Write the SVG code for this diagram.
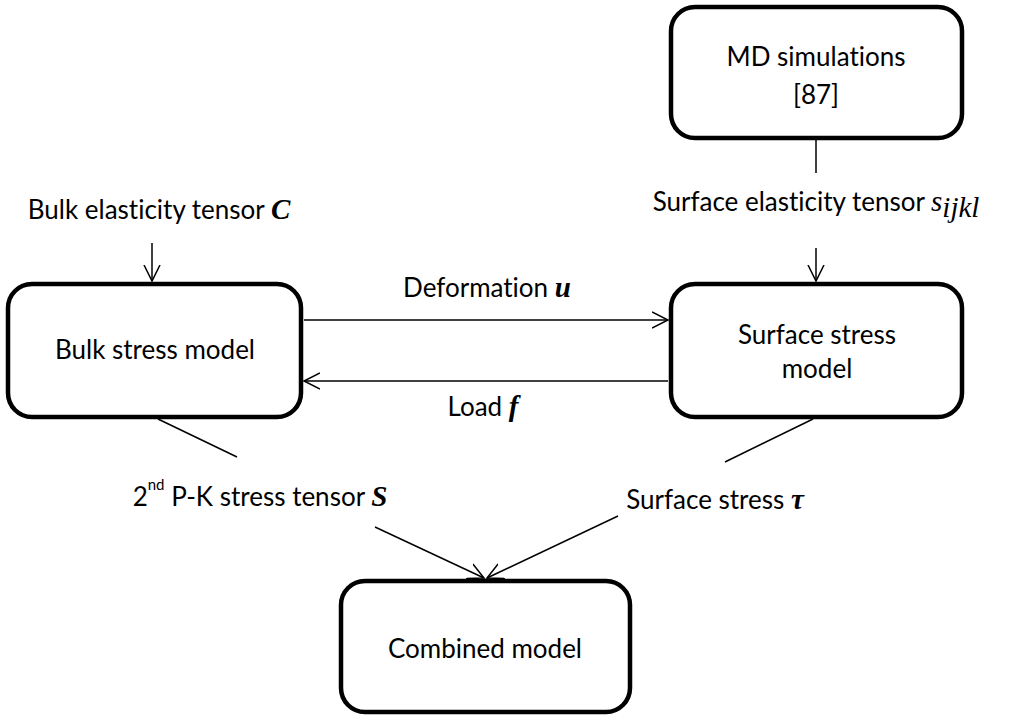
<svg xmlns="http://www.w3.org/2000/svg" width="1010" height="718" viewBox="0 0 1010 718">
<style>
.box{fill:#fff;stroke:#000;stroke-width:4.5}
.t{font-family:Lato,"Liberation Sans",sans-serif;font-size:26px;fill:#000;text-anchor:middle;font-variant-ligatures:none}
.m{font-family:"Liberation Serif",serif;font-weight:bold;font-style:italic;font-size:29px}
.mi{font-family:"Liberation Serif",serif;font-style:italic;font-size:29px}
.c{stroke:#000;stroke-width:1.5;fill:none}
</style>
<defs>
<marker id="ah" markerWidth="20" markerHeight="20" refX="16" refY="8" orient="auto" markerUnits="userSpaceOnUse" viewBox="0 0 20 16">
<polyline points="0,0 16,8 0,16" fill="none" stroke="#000" stroke-width="1.5"/>
</marker>
</defs>
<rect width="1010" height="718" fill="#fff"/>
<g id="connectors">
<line class="c" x1="816" y1="140" x2="816" y2="173"/>
<line class="c" x1="816" y1="248" x2="816" y2="281" marker-end="url(#ah)"/>
<line class="c" x1="152" y1="243" x2="152" y2="281" marker-end="url(#ah)"/>
<line class="c" x1="304" y1="320" x2="668" y2="320" marker-end="url(#ah)"/>
<line class="c" x1="668" y1="381" x2="304" y2="381" marker-end="url(#ah)"/>
<line class="c" x1="158" y1="419" x2="237" y2="457"/>
<line class="c" x1="375" y1="527" x2="484" y2="578" marker-end="url(#ah)"/>
<line class="c" x1="813" y1="419" x2="725" y2="462"/>
<line class="c" x1="618" y1="516" x2="487" y2="578" marker-end="url(#ah)"/>
</g>
<g id="labels">
<text class="t" x="159" y="219">Bulk elasticity tensor <tspan class="m">C</tspan></text>
<text class="t" x="816" y="211">Surface elasticity tensor <tspan class="mi">s</tspan><tspan class="mi" font-size="20" dy="6">ijkl</tspan></text>
<text class="t" x="487" y="297">Deformation <tspan class="m">u</tspan></text>
<text class="t" x="483" y="416">Load <tspan class="m">f</tspan></text>
<text class="t" x="260" y="506">2<tspan font-size="15" dy="-16">nd</tspan><tspan dy="16"> P-K stress tensor </tspan><tspan class="m">S</tspan></text>
<text class="t" x="715" y="509">Surface stress <tspan class="m">τ</tspan></text>
</g>
<g id="md">
<rect class="box" x="671" y="7" width="291" height="131" rx="24"/>
<text class="t" x="816" y="66">MD simulations</text>
<text class="t" x="816" y="104">[87]</text>
</g>
<g id="bulk">
<rect class="box" x="8" y="284" width="293" height="133" rx="24"/>
<text class="t" x="155" y="359">Bulk stress model</text>
</g>
<g id="surface">
<rect class="box" x="671" y="284" width="291" height="133" rx="24"/>
<text class="t" x="817" y="344">Surface stress</text>
<text class="t" x="817" y="378">model</text>
</g>
<g id="combined">
<rect class="box" x="341" y="581" width="289" height="131" rx="24"/>
<text class="t" x="485" y="658">Combined model</text>
</g>
</svg>
